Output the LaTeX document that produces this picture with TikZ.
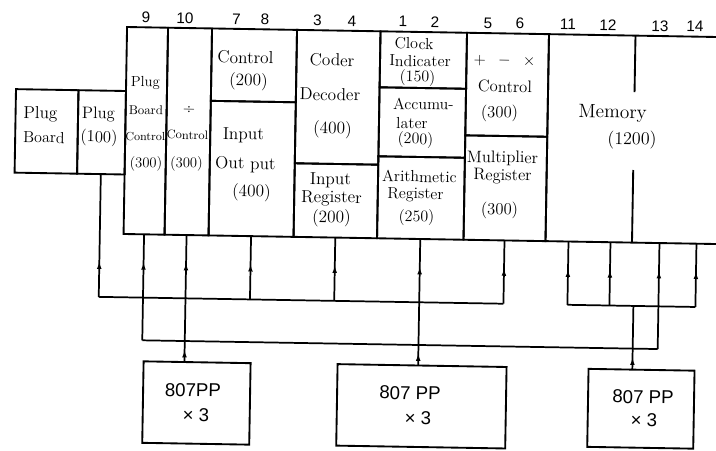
\documentclass[tikz,border=0pt]{standalone}
\usepackage{fontspec}
\newfontfamily\numfont{Liberation Sans}
\usetikzlibrary{arrows.meta,decorations.markings}
\newcommand\myfs[1]{\fontsize{#1}{#1}\selectfont}
\newcommand\boxnode[5]{\node[blk, minimum width={(#4-#2)*0.75pt}, minimum height={(#5-#3)*0.75pt}] (#1) at ({(#2+#4)/2},{(#3+#5)/2}) {};}
\begin{document}
\begin{tikzpicture}[x=0.75pt,y=-0.75pt,
  blk/.style={draw, line width=1.4pt, inner sep=0pt, outer sep=0pt},
  blkline/.style={line width=1.4pt},
  wire/.style={line width=1.3pt},
  upmark/.style={postaction={decorate, decoration={markings, mark=at position #1 with {\arrow{Latex[length=5.5pt,width=3.6pt]}}}}},
  lab/.style={inner sep=0pt, font=\myfs{13}},
  num/.style={inner sep=0pt, font=\numfont\myfs{11.5}},
  pp/.style={inner sep=0pt, font=\numfont\myfs{14}}]
\clip (0,0) rectangle (716,450);
\fill[white] (0,0) rectangle (716,450);
\begin{scope}[rotate around={-0.97:(420,240)}, transform shape]
% ---------- boxes ----------
\boxnode{pb}{13.5}{96}{76}{179.5}
\boxnode{plug}{76}{96}{123.5}{179.5}
\boxnode{c9}{123.5}{32}{164.5}{239}
\boxnode{c10}{164.5}{32}{208.5}{239}
\boxnode{c78a}{208.5}{32}{293.5}{104.4}
\boxnode{c78b}{208.5}{104.4}{293.5}{239}
\boxnode{c34a}{293.5}{32}{377}{165.4}
\boxnode{c34b}{293.5}{165.4}{377}{239}
\boxnode{c12a}{377}{32}{463.5}{88}
\boxnode{c12b}{377}{88}{463.5}{157}
\boxnode{c12c}{377}{157}{463.5}{239}
\boxnode{c56a}{463.5}{32}{545.5}{134.6}
\boxnode{c56b}{463.5}{134.6}{545.5}{239}
\boxnode{mem}{545.5}{32}{790}{239}
\draw[blkline] (632,32) -- (632,88.4) (632,166.4) -- (632,239);
\boxnode{pp1}{145.7}{366}{252.7}{447.5}
\boxnode{pp2}{339.7}{365.5}{508.7}{447}
\boxnode{pp3}{590.7}{366}{696.7}{444}
% ---------- column numbers ----------
\foreach \t/\a [count=\i] in {9/142.3,10/181.3,7/232.8,8/261.3,3/313.8,4/348.3,1/399.3,2/431.3,5/484.3,6/516.3,11/564.3,12/604.3,13/656.3,14/691.3}
  \node[num] (n\i) at (\a,22) {\t};
% ---------- labels ----------
\node[lab] (pb-1) at (38.4,120.9) {Plug};
\node[lab, font=\myfs{12}] (pb-2) at (42.3,143.8) {Board};
\node[lab, font=\myfs{12.5}] (plug-1) at (96.4,119.9) {Plug};
\node[lab, font=\myfs{12.5}] (plug-2) at (97.3,143.4) {(100)};
\node[lab, font=\myfs{11}] (c9-1) at (142.8,87.6) {Plug};
\node[lab, font=\myfs{9.6}] (c9-2) at (143.8,115.1) {Board};
\node[lab, font=\myfs{8.8}] (c9-3) at (143.6,141.2) {Control};
\node[lab, font=\myfs{11}] (c9-4) at (144.7,168.6) {(300)};
\node[lab, font=\myfs{12}] (c10-1) at (186.8,114.4) {÷};
\node[lab, font=\myfs{9.2}] (c10-2) at (185.7,138.9) {Control};
\node[lab, font=\myfs{11}] (c10-3) at (185.2,167.9) {(300)};
\foreach \t/\a/\b [count=\i] in {Control/242.4/60.4,(200)/245.8/84.4}
  \node[lab] (c78a-\i) at (\a,\b) {\t};
\foreach \t/\a/\b [count=\i] in {Input/241.7/138.5,Out put/244.2/167.5,(400)/250.7/195.4}
  \node[lab] (c78b-\i) at (\a,\b) {\t};
\foreach \t/\a/\b [count=\i] in {Coder/329/61.5,Decoder/327.5/96,(400)/330.6/131}
  \node[lab] (c34a-\i) at (\a,\b) {\t};
\foreach \t/\a/\b [count=\i] in {Input/329.5/182,Register/330.8/200,(200)/331.1/219.5}
  \node[lab] (c34b-\i) at (\a,\b) {\t};
\foreach \t/\a/\b [count=\i] in {Clock/410.7/43.6,Indicater/417/61,(150)/414.8/78}
  \node[lab, font=\myfs{12}] (c12a-\i) at (\a,\b) {\t};
\foreach \t/\a/\b [count=\i] in {Accumu-/421.2/103.9,later/410/123.1,(200)/413.8/140.1}
  \node[lab, font=\myfs{12}] (c12b-\i) at (\a,\b) {\t};
\foreach \t/\a/\b [count=\i] in {Arithmetic/418.4/176.5,Register/414.7/195.1,(250)/416.1/217.6}
  \node[lab, font=\myfs{12}] (c12c-\i) at (\a,\b) {\t};
\node[lab, font=\myfs{12.5}] (c56a-1) at (501.5,59.6) {$+\;\;-\;\;\times$};
\foreach \t/\a/\b [count=\i from 2] in {Control/502.4/85.1,(300)/497.4/112.2}
  \node[lab, font=\myfs{12.5}] (c56a-\i) at (\a,\b) {\t};
\foreach \t/\a/\b [count=\i] in {Multiplier/501.1/157.1,Register/501.4/175.1,(300)/499/209.2}
  \node[lab, font=\myfs{12.5}] (c56b-\i) at (\a,\b) {\t};
\node[lab, font=\myfs{14.5}] (mem-1) at (610.4,110.2) {Memory};
\node[lab, font=\myfs{13.5}] (mem-2) at (630.3,136.4) {(1200)};
\node[pp] (pp1-1) at (195.5,393.9) {807PP};
\node[pp] (pp1-2) at (199,419) {× 3};
\node[pp] (pp2-1) at (412.6,393.2) {807 PP};
\node[pp] (pp2-2) at (421,418) {× 3};
\node[pp] (pp3-1) at (645.7,393.2) {807 PP};
\node[pp] (pp3-2) at (647,416.2) {× 3};
% ---------- wiring coordinates ----------
\coordinate (b1a) at (99.75,302.3);
\coordinate (b1b) at (251,302.3);
\coordinate (b1c) at (335.25,302.3);
\coordinate (b1d) at (504.5,302.3);
\coordinate (b2a) at (144,345);
\coordinate (b2b) at (659.5,345);
\coordinate (b3a) at (568.5,302.3);
\coordinate (b3b) at (610.5,302.3);
\coordinate (b3j) at (634.5,302.3);
\coordinate (b3d) at (696.5,302.3);
\coordinate (m11) at (568.5,239);
\coordinate (m12) at (610.5,239);
\coordinate (m13) at (659.5,239);
\coordinate (m14) at (696.5,239);
\coordinate (p1) at (186.5,366);
\coordinate (p2) at (420.25,365.5);
\coordinate (p3) at (634.5,366);
% ---------- wires ----------
\draw[wire] (b1a) -- (b1d);
\draw[wire, upmark=26.5pt] (b1a) -- (plug.south);
\draw[wire, upmark=-21pt] (b1b) -- (c78b.south);
\draw[wire, upmark=-21pt] (b1c) -- (c34b.south);
\draw[wire, upmark=-21pt] (b1d) -- (c56b.south);
\draw[wire] (b2a) -- (b2b);
\draw[wire, upmark=-21pt] (b2a) -- (c9.south);
\draw[wire, upmark=-21pt] (b2b) -- (m13);
\draw[wire, upmark=9pt, upmark=-21pt] (p1) -- (c10.south);
\draw[wire, upmark=9pt, upmark=-21pt] (p2) -- (c12c.south);
\draw[wire] (b3a) -- (b3d);
\draw[wire, upmark=-21pt] (b3a) -- (m11);
\draw[wire, upmark=-21pt] (b3b) -- (m12);
\draw[wire, upmark=-21pt] (b3d) -- (m14);
\draw[wire, upmark=9pt] (p3) -- (b3j);
\end{scope}
\end{tikzpicture}
\end{document}
